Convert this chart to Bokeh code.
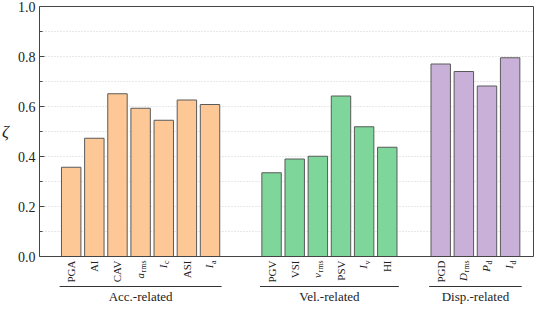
import math
from bokeh.plotting import figure
from bokeh.models import Range1d
from bokeh.core.properties import value
from bokeh.embed import file_html
from bokeh.resources import INLINE

# ---------------- data ----------------
acc_main = ["PGA", "AI", "CAV", "a", "I", "ASI", "I"]
acc_sub = ["", "", "", "rms", "c", "", "a"]
acc_vals = [0.357, 0.473, 0.651, 0.593, 0.545, 0.626, 0.608]

vel_main = ["PGV", "VSI", "v", "PSV", "I", "HI"]
vel_sub = ["", "", "rms", "", "v", ""]
vel_vals = [0.335, 0.390, 0.401, 0.642, 0.519, 0.437]

disp_main = ["PGD", "D", "P", "I"]
disp_sub = ["", "rms", "d", "d"]
disp_vals = [0.770, 0.740, 0.682, 0.795]

group_names = ["Acc.-related", "Vel.-related", "Disp.-related"]
y_ticks = [0.0, 0.2, 0.4, 0.6, 0.8, 1.0]
y_minor = [0.1, 0.3, 0.5, 0.7, 0.9]
y_tick_labels = ["0.0", "0.2", "0.4", "0.6", "0.8", "1.0"]
y_label = "ζ"

# ---------------- layout / style ----------------
W, H = 534, 304
BOX_LEFT, BOX_RIGHT, BOX_TOP = 39, 1, 6   # pixel margins of the plotting box
PX = 250.0                                 # pixels per y unit
BELOW_PX = H - BOX_TOP - PX
X0, X1 = -1.37, 19.98                       # box extent in category units
PXX = (W - BOX_LEFT - BOX_RIGHT) / (X1 - X0)
group_starts = [0.0, 8.66, 15.97]
fills = ["#FDC896", "#7FD69A", "#C8B0D9"]
edge = "#5a5a5a"
frame_col = "#444444"
grid_col = "#d0d0d0"
txt_col = "#222222"
SERIF = "Liberation Serif"
BAR_W = 0.84
SUB_PX, MAIN_PX, TOP_GAP = 8, 11, 4

groups = [
    (acc_main, acc_sub, acc_vals),
    (vel_main, vel_sub, vel_vals),
    (disp_main, disp_sub, disp_vals),
]

p = figure(width=W, height=H, output_backend="svg", toolbar_location=None,
           x_axis_location=None, y_axis_location=None,
           min_border_left=0, min_border_right=0, min_border_top=0, min_border_bottom=0)
p.x_range = Range1d(X0 - BOX_LEFT / PXX, X1 + BOX_RIGHT / PXX)
p.y_range = Range1d(-BELOW_PX / PX, 1.0 + BOX_TOP / PX)
p.outline_line_color = None
p.background_fill_color = "white"
p.border_fill_color = "white"
p.grid.visible = False

# dotted grid lines
grid_y = [t for t in y_ticks if 0 < t < 1] + y_minor
p.segment(x0=[X0] * len(grid_y), y0=grid_y, x1=[X1] * len(grid_y), y1=grid_y,
          line_color=grid_col, line_width=1, line_dash="1 2")

# bars
plain_x, plain_t = [], []
ital_x, ital_y, ital_t = [], [], []
sub_x, sub_t = [], []
ul_x0, ul_x1, g_x = [], [], []
adv = {"r": 0.333, "m": 0.778, "s": 0.389, "c": 0.444, "a": 0.444, "v": 0.5, "d": 0.5}

for gi, (mains, subs, vals) in enumerate(groups):
    xs = [group_starts[gi] + i for i in range(len(vals))]
    p.vbar(x=xs, top=vals, bottom=0, width=BAR_W, fill_color=fills[gi],
           line_color=edge, line_width=1)
    for x, m, s in zip(xs, mains, subs):
        if s:
            sw = sum(adv.get(ch, 0.5) for ch in s) * SUB_PX
            sub_x.append(x)
            sub_t.append(s)
            ital_x.append(x)
            ital_y.append(-(TOP_GAP + sw + 0.5) / PX)
            ital_t.append(m)
        else:
            plain_x.append(x)
            plain_t.append(m)
    ul_x0.append(xs[0] - 0.5)
    ul_x1.append(xs[-1] + 0.5)
    g_x.append((xs[0] + xs[-1]) / 2)

# plotting box and inward ticks
p.segment(x0=[X0, X0, X1, X0], y0=[0.0, 1.0, 0.0, 0.0], x1=[X1, X1, X1, X0], y1=[0.0, 1.0, 1.0, 1.0],
          line_color=frame_col, line_width=1)
p.segment(x0=[X0] * len(y_ticks), y0=y_ticks, x1=[X0 + 5 / PXX] * len(y_ticks), y1=y_ticks,
          line_color=frame_col, line_width=1)
p.segment(x0=[X0] * len(y_minor), y0=y_minor, x1=[X0 + 3 / PXX] * len(y_minor), y1=y_minor,
          line_color=frame_col, line_width=1)

# y tick labels and axis title
p.text(x=[X0] * len(y_ticks), y=y_ticks, text=y_tick_labels, x_offset=-4,
       text_align="right", text_baseline="middle", text_font=value(SERIF),
       text_font_size=value("14px"), text_color=txt_col)
p.text(x=[X0], y=[0.5], text=[y_label], x_offset=-34, text_align="center",
       text_baseline="middle", text_font=value(SERIF), text_font_style=value("italic"),
       text_font_size=value("17px"), text_color=txt_col)

# category labels (rotated, reading upward, aligned to the box bottom)
common = dict(angle=math.pi / 2, text_align="right", text_baseline="middle",
              text_font=value(SERIF), text_color=txt_col)
p.text(x=plain_x, y=[-TOP_GAP / PX] * len(plain_x), text=plain_t,
       text_font_size=value(f"{MAIN_PX}px"), **common)
p.text(x=ital_x, y=ital_y, text=ital_t, x_offset=-1,
       text_font_size=value(f"{MAIN_PX}px"), text_font_style=value("italic"), **common)
p.text(x=sub_x, y=[-TOP_GAP / PX] * len(sub_x), text=sub_t, x_offset=3,
       text_font_size=value(f"{SUB_PX}px"), **common)

# group underlines and names
uy = -30.0 / PX
p.segment(x0=ul_x0, y0=[uy] * 3, x1=ul_x1, y1=[uy] * 3, line_color="#333333", line_width=1)
p.text(x=g_x, y=[-40.0 / PX] * 3, text=group_names, text_align="center",
       text_baseline="middle", text_font=value(SERIF), text_font_size=value("13px"),
       text_color=txt_col)

open("out.html", "w").write(file_html(p, INLINE))
